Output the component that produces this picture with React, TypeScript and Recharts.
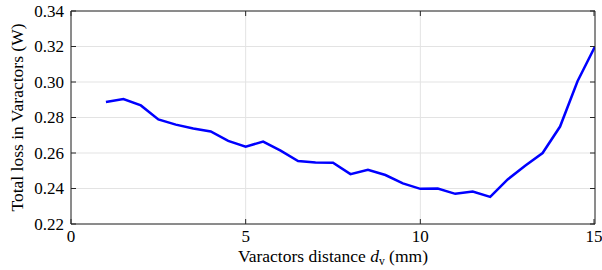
import React from 'react';
import { LineChart, Line, XAxis, YAxis, CartesianGrid } from 'recharts';

const distances = [1, 1.5, 2, 2.5, 3, 3.5, 4, 4.5, 5, 5.5, 6, 6.5, 7, 7.5, 8, 8.5, 9, 9.5, 10, 10.5, 11, 11.5, 12, 12.5, 13, 13.5, 14, 14.5, 15];
const totalLoss = [0.2887, 0.2904, 0.2868, 0.2789, 0.2760, 0.2738, 0.2721, 0.2668, 0.2636, 0.2664, 0.2613, 0.2555, 0.2547, 0.2545, 0.2481, 0.2506, 0.2476, 0.2429, 0.2398, 0.2400, 0.2370, 0.2383, 0.2353, 0.2451, 0.2528, 0.2600, 0.2749, 0.3004, 0.3200];
const xTicks = [0, 5, 10, 15];
const yTicks = [0.22, 0.24, 0.26, 0.28, 0.30, 0.32, 0.34];

const data = distances.map((d, i) => ({ d, loss: totalLoss[i] }));

const FONT = 'Liberation Serif';
const TICK_TXT: React.CSSProperties = { fontFamily: FONT, fontSize: 17 };
const LABEL_TXT: React.CSSProperties = { fontFamily: FONT, fontSize: 17.5 };
const AXIS = '#262626';
const TICK_LEN = 5;
const X_MARGIN = 5;
const Y_MARGIN = 7;

const BottomTick = (props: any) => {
  const { x, y, payload } = props;
  const axisY = y - X_MARGIN;
  return (
    <g>
      <line x1={x} y1={axisY} x2={x} y2={axisY - TICK_LEN} stroke={AXIS} strokeWidth={1} />
      <text x={x} y={y} dy="0.78em" textAnchor="middle" fontFamily={FONT} style={TICK_TXT} fill="#000">
        {payload.value}
      </text>
    </g>
  );
};

const TopTick = (props: any) => {
  const { x, y } = props;
  const axisY = y + X_MARGIN;
  return <line x1={x} y1={axisY} x2={x} y2={axisY + TICK_LEN} stroke={AXIS} strokeWidth={1} />;
};

const LeftTick = (props: any) => {
  const { x, y, payload } = props;
  const axisX = x + Y_MARGIN;
  return (
    <g>
      <line x1={axisX} y1={y} x2={axisX + TICK_LEN} y2={y} stroke={AXIS} strokeWidth={1} />
      <text x={x} y={y} dy="0.35em" textAnchor="end" fontFamily={FONT} style={TICK_TXT} fill="#000">
        {Number(payload.value).toFixed(2)}
      </text>
    </g>
  );
};

const RightTick = (props: any) => {
  const { x, y } = props;
  const axisX = x - Y_MARGIN;
  return <line x1={axisX} y1={y} x2={axisX - TICK_LEN} y2={y} stroke={AXIS} strokeWidth={1} />;
};

const XLabel = (props: any) => {
  const vb = props.viewBox || {};
  const cx = (vb.x || 0) + (vb.width || 0) / 2;
  return (
    <text x={cx} y={262} textAnchor="middle" fontFamily={FONT} style={LABEL_TXT} fill="#000">
      <tspan>Varactors distance </tspan>
      <tspan style={{ fontStyle: 'italic' }}>d</tspan>
      <tspan style={{ fontSize: 11.5 }} dy={3}>v</tspan>
      <tspan dy={-3}> (mm)</tspan>
    </text>
  );
};

const YLabel = (props: any) => {
  const vb = props.viewBox || {};
  const cy = (vb.y || 0) + (vb.height || 0) / 2;
  return (
    <text x={23} y={cy} textAnchor="middle" fontFamily={FONT} style={LABEL_TXT} fill="#000" transform={`rotate(-90, 23, ${cy})`}>
      Total loss in Varactors (W)
    </text>
  );
};

export default function App() {
  return (
    <div style={{ position: 'absolute', left: 0, top: 0, width: 602, height: 270, background: '#fff' }}>
      <LineChart width={602} height={270} data={data} margin={{ top: 0, right: 0, bottom: 0, left: 0 }}>
        <CartesianGrid stroke="#e3e3e3" strokeWidth={1} horizontal vertical />
        <XAxis
          dataKey="d"
          type="number"
          domain={[0, 15]}
          ticks={xTicks}
          allowDataOverflow
          stroke={AXIS}
          axisLine
          tickLine={false}
          tickSize={0}
          tickMargin={X_MARGIN}
          height={46}
          tick={<BottomTick />}
          label={<XLabel />}
        />
        <XAxis
          xAxisId="top"
          orientation="top"
          dataKey="d"
          type="number"
          domain={[0, 15]}
          ticks={xTicks}
          allowDataOverflow
          stroke={AXIS}
          axisLine
          tickLine={false}
          tickSize={0}
          tickMargin={X_MARGIN}
          height={11}
          tick={<TopTick />}
        />
        <YAxis
          type="number"
          domain={[0.22, 0.34]}
          ticks={yTicks}
          allowDataOverflow
          width={71}
          stroke={AXIS}
          axisLine
          tickLine={false}
          tickSize={0}
          tickMargin={Y_MARGIN}
          tick={<LeftTick />}
          label={<YLabel />}
        />
        <YAxis
          yAxisId="right"
          orientation="right"
          type="number"
          domain={[0.22, 0.34]}
          ticks={yTicks}
          allowDataOverflow
          width={7}
          stroke={AXIS}
          axisLine
          tickLine={false}
          tickSize={0}
          tickMargin={Y_MARGIN}
          tick={<RightTick />}
        />
        <Line
          type="linear"
          dataKey="loss"
          stroke="#0000ff"
          strokeWidth={2.5}
          dot={false}
          isAnimationActive={false}
        />
      </LineChart>
    </div>
  );
}
